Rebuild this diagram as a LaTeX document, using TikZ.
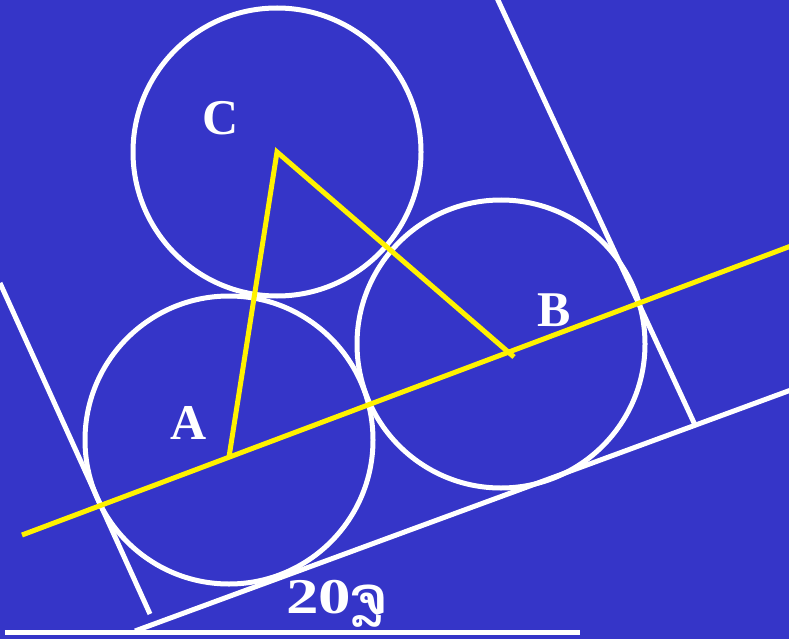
\documentclass[tikz,border=0pt]{standalone}
\usepackage{fontspec}
\setmainfont{Liberation Serif}
\newfontfamily\laofont[Script=Lao]{Dhyana}
\definecolor{bg}{HTML}{3535C8}
\begin{document}
\begin{tikzpicture}[x=1pt,y=-1pt,
  wline/.style={draw=white,line width=5pt},
  yline/.style={draw=yellow,line width=5pt},
  lbl/.style={text=white,font=\fontsize{50}{50}\selectfont\bfseries,inner sep=0pt}]
\fill[bg] (0,0) rectangle (789,639);
\useasboundingbox (0,0) rectangle (789,639);
% circles
\coordinate (cC) at (277,152);
\coordinate (cA) at (229,440);
\coordinate (cB) at (501,344);
\draw[wline] (cC) circle (144);
\draw[wline] (cA) circle (144);
\draw[wline] (cB) circle (144);
% white tangent lines
\coordinate (l1) at (0,283); \coordinate (l2) at (150,614);
\coordinate (r1) at (497,-2); \coordinate (r2) at (695,425);
\coordinate (b1) at (135,631); \coordinate (b2) at (791,390);
\coordinate (h1) at (5,632); \coordinate (h2) at (580,632);
\draw[wline] (l1) -- (l2);
\draw[wline] (r1) -- (r2);
\draw[wline] (b1) -- (b2);
\draw[wline] (h1) -- (h2);
% yellow
\coordinate (y1) at (22,535); \coordinate (y2) at (791,246);
\coordinate (pA) at (229,457); \coordinate (pB) at (514,357);
\draw[yline] (y1) -- (y2);
\draw[yline,line join=miter] (pA) -- (cC) -- (pB);
% labels
\node[lbl] (tC) at (221,118) {C};
\node[lbl] (tA) at (189,423) {A};
\node[lbl] (tB) at (554,310) {B};
\node[lbl,anchor=base west] (t20) at (286,613) {\scalebox{1.3}[1]{20}\laofont ຈຼ};
\end{tikzpicture}
\end{document}
